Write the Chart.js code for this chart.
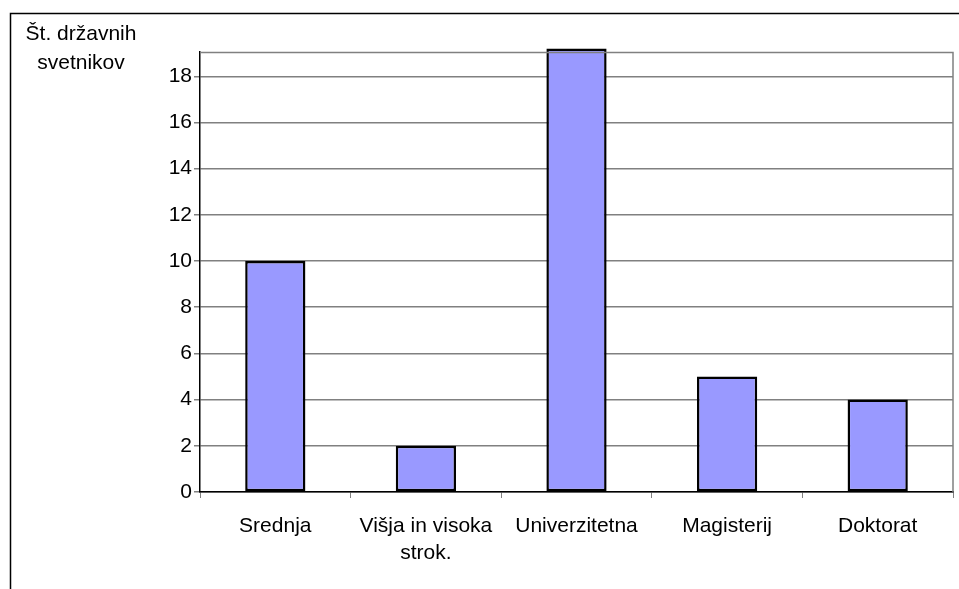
<!DOCTYPE html>
<html>
<head>
<meta charset="utf-8">
<script src="https://cdn.jsdelivr.net/npm/chart.js@4.4.1/dist/chart.umd.min.js"></script>
<style>
  html, body { margin: 0; padding: 0; background: #fff; }
  #wrap { width: 959px; height: 589px; }
</style>
</head>
<body>
<div id="wrap"><canvas id="bar-chart" width="959" height="589"></canvas></div>
<script>
const categories = ['Srednja', ['Višja in visoka', 'strok.'], 'Univerzitetna', 'Magisterij', 'Doktorat'];
const counts = [10, 2, 19.2, 5, 4];
const yTitle = ['Št. državnih', 'svetnikov'];
const yMax = 19.05;

const FONT = "'Liberation Sans', Arial, sans-serif";

// frame round the picture, gray top/right plot edge and the horizontal axis title
const framePlugin = {
  id: 'frame',
  afterDraw(chart) {
    const { ctx, chartArea } = chart;
    ctx.save();
    ctx.strokeStyle = '#808080';
    ctx.lineWidth = 1.5;
    ctx.beginPath();
    ctx.moveTo(chartArea.left, chartArea.top + 0.5);
    ctx.lineTo(chartArea.right, chartArea.top + 0.5);
    ctx.lineTo(chartArea.right, chartArea.bottom);
    ctx.stroke();

    ctx.strokeStyle = '#000';
    ctx.lineWidth = 1.5;
    ctx.beginPath();
    ctx.moveTo(10.5, 600);
    ctx.lineTo(10.5, 13.5);
    ctx.lineTo(970, 13.5);
    ctx.stroke();

    ctx.fillStyle = '#000';
    ctx.font = '21px ' + FONT;
    ctx.textAlign = 'center';
    ctx.textBaseline = 'alphabetic';
    ctx.fillText(yTitle[0], 81, 40);
    ctx.fillText(yTitle[1], 81, 69);
    ctx.restore();
  },
};

new Chart(document.getElementById('bar-chart'), {
  type: 'bar',
  data: {
    labels: categories,
    datasets: [
      {
        data: counts,
        backgroundColor: '#9999ff',
        borderColor: '#000',
        borderWidth: 2.5,
        borderSkipped: false,
        barPercentage: 0.8,
        categoryPercentage: 0.5,
        clip: false,
      },
    ],
  },
  options: {
    responsive: false,
    animation: false,
    layout: {
      padding: { top: 52, right: 6, left: 0, bottom: 0 },
    },
    scales: {
      x: {
        grid: {
          offset: true,
          drawOnChartArea: false,
          tickLength: 6,
          color: '#808080',
        },
        border: { color: '#000', width: 1.5 },
        ticks: {
          color: '#000',
          padding: 15,
          maxRotation: 0,
          autoSkip: false,
          font: { family: FONT, size: 21, lineHeight: 1.29 },
        },
        afterFit(scale) {
          scale.height = 97;
        },
      },
      y: {
        min: 0,
        max: yMax,
        ticks: {
          stepSize: 2,
          color: '#000',
          padding: 2,
          font: { family: FONT, size: 21 },
        },
        afterBuildTicks(scale) {
          scale.ticks = scale.ticks.filter((t) => t.value % 2 === 0);
        },
        grid: {
          color: '#808080',
          lineWidth: 1.5,
          tickLength: 6,
        },
        border: { color: '#000', width: 1.5 },
        afterFit(scale) {
          scale.width = 200;
        },
      },
    },
    plugins: {
      legend: { display: false },
      tooltip: { enabled: false },
    },
  },
  plugins: [framePlugin],
});
</script>
</body>
</html>
